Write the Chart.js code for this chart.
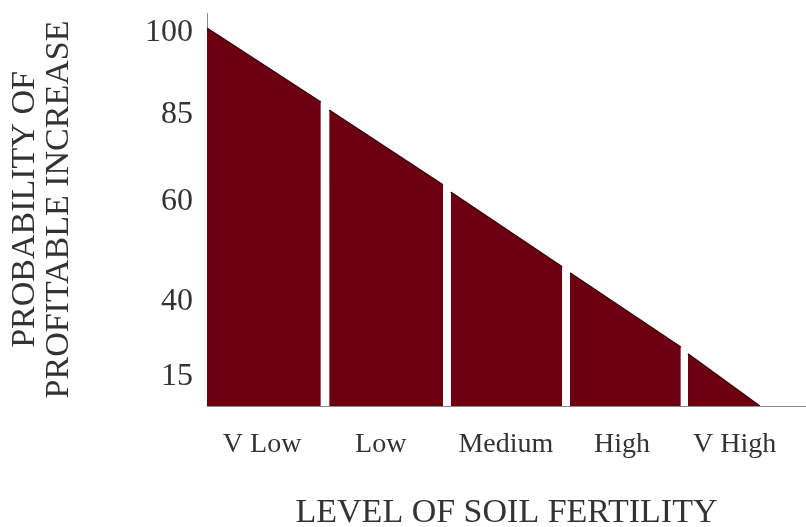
<!DOCTYPE html>
<html>
<head>
<meta charset="utf-8">
<script src="https://cdn.jsdelivr.net/npm/chart.js@4.4.0/dist/chart.umd.min.js"></script>
<style>
  html, body { margin: 0; padding: 0; background: #fff; }
  #wrap { width: 806px; height: 527px; }
</style>
</head>
<body>
<div id="wrap"><canvas id="chart" width="806" height="527"></canvas></div>
<script>
// fertility classes and the x range each block covers (0-100 across the plot)
const levels = ["V Low", "Low", "Medium", "High", "V High"];
const segStart = [0, 20.4, 40.7, 60.6, 80.3];
const segEnd = [19.0, 39.4, 59.3, 79.1, 92.3];
// height of the sloping top at each end of a block (0-100)
const topStart = [100, 78.3, 56.6, 35.2, 13.8];
const topEnd = [80.4, 58.5, 36.8, 15.6, 0];

// where the category names sit along x
const levelTickPos = [9.2, 29.0, 49.9, 69.3, 88.1];

// probability labels on the y axis and their heights
const probLabels = ["100", "85", "60", "40", "15"];
const probTickPos = [98.7, 77.0, 54.2, 27.5, 7.7];

const barColor = "#6c0012";
const edgeColor = "#43000c";
const textColor = "#333";
const serif = "'Liberation Serif', 'Times New Roman', serif";

const datasets = levels.map((name, i) => ({
  label: name,
  data: [
    { x: segStart[i], y: topStart[i] },
    { x: segEnd[i], y: topEnd[i] },
  ],
  fill: "origin",
  backgroundColor: barColor,
  borderColor: edgeColor,
  borderWidth: 1.5,
  pointRadius: 0,
  tension: 0,
}));

const ctx = document.getElementById("chart").getContext("2d");
const chart = new Chart(ctx, {
  type: "line",
  data: { datasets: datasets },
  options: {
    responsive: false,
    animation: false,
    layout: { padding: { top: 13, right: 0, left: 0, bottom: 0 } },
    scales: {
      x: {
        type: "linear",
        min: 0,
        max: 100,
        grid: { display: false, drawTicks: false },
        border: { display: true, color: "#8a8a8a", width: 1 },
        afterBuildTicks: (scale) => {
          scale.ticks = levelTickPos.map((v) => ({ value: v }));
        },
        afterFit: (scale) => {
          scale.height = 121;
          scale.paddingLeft = 0;
          scale.paddingRight = 0;
        },
        ticks: {
          autoSkip: false,
          maxRotation: 0,
          padding: 22,
          color: textColor,
          font: { family: serif, size: 28 },
          callback: (value, index) => levels[index],
        },
        title: {
          display: true,
          text: "LEVEL OF SOIL FERTILITY",
          color: textColor,
          font: { family: serif, size: 34, lineHeight: 0.8 },
          padding: { top: 0, bottom: 0 },
        },
      },
      y: {
        type: "linear",
        min: 0,
        max: 104,
        grid: { display: false, drawTicks: false },
        border: { display: true, color: "#8a8a8a", width: 1 },
        afterBuildTicks: (scale) => {
          scale.ticks = probTickPos.map((v) => ({ value: v }));
        },
        afterFit: (scale) => {
          scale.width = 207;
          scale.paddingTop = 0;
          scale.paddingBottom = 0;
        },
        ticks: {
          autoSkip: false,
          padding: 14,
          color: textColor,
          font: { family: serif, size: 32 },
          callback: (value, index) => probLabels[index],
        },
        title: {
          display: true,
          align: "center",
          text: ["PROBABILITY OF", "PROFITABLE INCREASE"],
          color: textColor,
          font: { family: serif, size: 34, lineHeight: 1.0 },
          padding: { top: 8, bottom: 0 },
        },
      },
    },
    plugins: {
      legend: { display: false },
      tooltip: { enabled: false },
    },
  },
});
</script>
</body>
</html>
